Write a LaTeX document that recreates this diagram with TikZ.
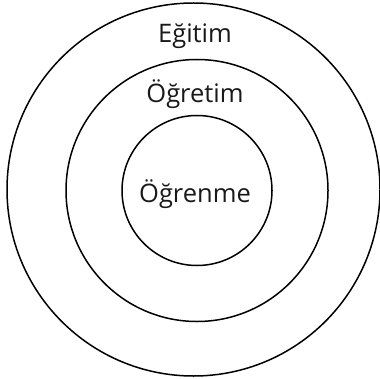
\documentclass[tikz,border=0pt]{standalone}
\usepackage{fontspec}
\setmainfont{Open Sans}
\begin{document}
\begin{tikzpicture}[x=1pt,y=-1pt,
  ring/.style={draw=black,line width=1.5pt},
  lbl/.style={anchor=base,inner sep=0pt,font=\fontsize{25.5}{25.5}\selectfont,text=black!90}]
\useasboundingbox (0,0) rectangle (379,379);
\node[ring,circle,minimum size=373pt,inner sep=0pt] (outer) at (193.5,189.5) {};
\node[ring,circle,minimum size=262pt,inner sep=0pt] (middle) at (197,190.5) {};
\node[ring,circle,minimum size=150pt,inner sep=0pt] (inner) at (197,190.5) {};
\node[lbl] (egitim) at (195,43) {Eğitim};
\node[lbl] (ogretim) at (195,103) {Öğretim};
\node[lbl] (ogrenme) at (195,202) {Öğrenme};
\end{tikzpicture}
\end{document}
